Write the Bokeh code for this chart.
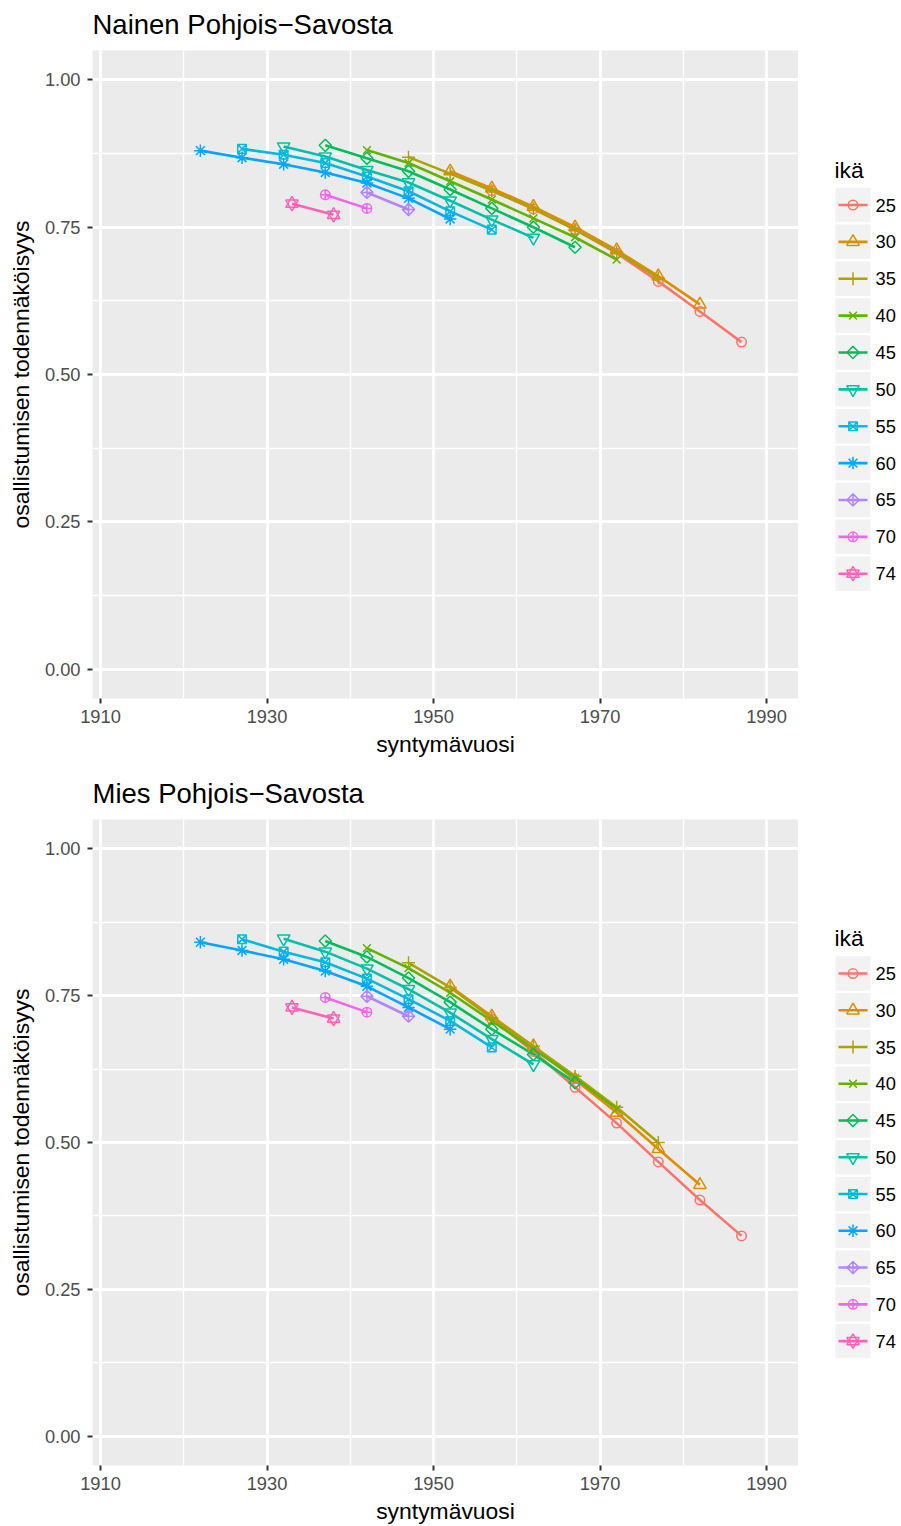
import math
from bokeh.plotting import figure
from bokeh.layouts import column, row
from bokeh.models import Range1d, FixedTicker
from bokeh.core.properties import value
from bokeh.embed import file_html
from bokeh.resources import INLINE

# Observation years; birth year = observation year - age
havaintovuodet = [1982, 1987, 1992, 1997, 2002, 2007, 2012]
iat = [25, 30, 35, 40, 45, 50, 55, 60, 65, 70, 74]

# Women, participation probability by birth cohort (oldest cohort first)
nainen_25 = [0.812, 0.781, 0.746, 0.706, 0.658, 0.607, 0.555]
nainen_30 = [0.845, 0.816, 0.785, 0.750, 0.711, 0.667, 0.619]
nainen_35 = [0.869, 0.841, 0.812, 0.782, 0.746, 0.708, 0.664]
nainen_40 = [0.881, 0.859, 0.828, 0.797, 0.765, 0.733, 0.695]
nainen_45 = [0.889, 0.867, 0.845, 0.814, 0.782, 0.750, 0.716]
nainen_50 = [0.887, 0.870, 0.847, 0.826, 0.795, 0.763, 0.732]
nainen_55 = [0.883, 0.873, 0.859, 0.836, 0.811, 0.777, 0.746]
nainen_60 = [0.880, 0.868, 0.857, 0.843, 0.825, 0.799, 0.764]
nainen_65 = [0.809, 0.780]
nainen_70 = [0.805, 0.782]
nainen_74 = [0.790, 0.771]

# Men
mies_25 = [0.710, 0.655, 0.594, 0.533, 0.467, 0.402, 0.341]
mies_30 = [0.766, 0.715, 0.664, 0.607, 0.551, 0.489, 0.428]
mies_35 = [0.806, 0.764, 0.712, 0.664, 0.613, 0.560, 0.500]
mies_40 = [0.831, 0.797, 0.755, 0.707, 0.659, 0.610, 0.557]
mies_45 = [0.843, 0.816, 0.780, 0.739, 0.693, 0.650, 0.602]
mies_50 = [0.847, 0.825, 0.796, 0.761, 0.721, 0.676, 0.633]
mies_55 = [0.846, 0.825, 0.807, 0.779, 0.744, 0.707, 0.662]
mies_60 = [0.841, 0.827, 0.812, 0.792, 0.766, 0.730, 0.693]
mies_65 = [0.749, 0.715]
mies_70 = [0.747, 0.722]
mies_74 = [0.730, 0.711]

nainen = [nainen_25, nainen_30, nainen_35, nainen_40, nainen_45, nainen_50,
          nainen_55, nainen_60, nainen_65, nainen_70, nainen_74]
mies = [mies_25, mies_30, mies_35, mies_40, mies_45, mies_50,
        mies_55, mies_60, mies_65, mies_70, mies_74]

x_tiikit = [1910, 1930, 1950, 1970, 1990]
x_apu = [1920, 1940, 1960, 1980]
y_tiikit = [0.0, 0.25, 0.5, 0.75, 1.0]
y_apu = [0.125, 0.375, 0.625, 0.875]
y_tekstit = ["0.00", "0.25", "0.50", "0.75", "1.00"]

varit = ["#F8766D", "#DB8E00", "#AEA200", "#64B200", "#00BD5C", "#00C1A7",
         "#00BADE", "#00A6FF", "#B385FF", "#EF67EB", "#FF63B6"]

# marker shapes per age group: (marker, size, angle)
merkit = [
    [("circle", 9.5, 0.0)],
    [("triangle", 12.5, 0.0)],
    [("cross", 13, 0.0)],
    [("x", 11, 0.0)],
    [("square", 8.6, math.pi / 4)],
    [("inverted_triangle", 12.5, 0.0)],
    [("square_x", 8.6, 0.0)],
    [("asterisk", 12.5, 0.0)],
    [("square_x", 8.6, math.pi / 4)],
    [("circle_cross", 9.5, 0.0)],
    [("triangle", 12.5, 0.0), ("inverted_triangle", 12.5, 0.0)],
]

FONT = "Liberation Sans"
LINE_W = 2.6
PT_W = 1.5
TOP = 50


def syntymavuodet(ika, arvot):
    vuodet = havaintovuodet[len(havaintovuodet) - len(arvot):]
    return [v - ika for v in vuodet]


def paneeli(otsikko, sarjat, korkeus, ala):
    p = figure(width=798, height=korkeus,
               x_range=Range1d(1909.04, 1993.84), y_range=Range1d(-0.05, 1.05),
               output_backend="svg", toolbar_location=None,
               min_border_left=92, min_border_right=0,
               min_border_top=TOP, min_border_bottom=ala,
               background_fill_color="#EBEBEB", border_fill_color="white",
               outline_line_color=None, title=otsikko)
    p.title.text_font = FONT
    p.title.text_font_size = "27.5px"
    p.title.text_font_style = "normal"
    p.title.text_color = "black"
    p.title.align = "left"
    p.title.vertical_align = "top"
    p.title.standoff = 17

    p.xaxis.ticker = FixedTicker(ticks=x_tiikit, minor_ticks=x_apu)
    p.yaxis.ticker = FixedTicker(ticks=y_tiikit, minor_ticks=y_apu)
    p.yaxis.major_label_overrides = {t: s for t, s in zip(y_tiikit, y_tekstit)}
    p.xaxis.axis_label = "syntymävuosi"
    p.yaxis.axis_label = "osallistumisen todennäköisyys"
    for ax in (p.xaxis[0], p.yaxis[0]):
        ax.axis_line_color = None
        ax.major_tick_line_color = "#333333"
        ax.major_tick_line_width = 2
        ax.major_tick_out = 5
        ax.major_tick_in = 0
        ax.minor_tick_line_color = None
        ax.major_label_text_font = FONT
        ax.major_label_text_font_size = "18.3px"
        ax.major_label_text_color = "#4D4D4D"
        ax.axis_label_text_font = FONT
        ax.axis_label_text_font_size = "22.9px"
        ax.axis_label_text_font_style = "normal"
        ax.axis_label_text_color = "black"
    p.xaxis.major_label_standoff = 6
    p.xaxis.axis_label_standoff = 5
    p.yaxis.major_label_standoff = 7
    p.yaxis.axis_label_standoff = 8

    for g in (p.xgrid[0], p.ygrid[0]):
        g.grid_line_color = "white"
        g.grid_line_width = 2.8
        g.minor_grid_line_color = "white"
        g.minor_grid_line_width = 1.4

    for ika, arvot, vari in zip(iat, sarjat, varit):
        p.line(syntymavuodet(ika, arvot), arvot, line_color=vari, line_width=LINE_W)
    for ika, arvot, vari, mk in zip(iat, sarjat, varit, merkit):
        xs = syntymavuodet(ika, arvot)
        for marker, koko, kulma in mk:
            p.scatter(xs, arvot, marker=marker, size=koko, angle=kulma,
                      fill_color=None, line_color=vari, line_width=PT_W)
    return p


def selite(korkeus, ala):
    s = figure(width=103, height=korkeus,
               x_range=Range1d(0, 103), y_range=Range1d(korkeus - ala, TOP),
               x_axis_type=None, y_axis_type=None,
               output_backend="svg", toolbar_location=None,
               min_border_left=0, min_border_right=0,
               min_border_top=TOP, min_border_bottom=ala,
               outline_line_color=None, background_fill_color="white",
               border_fill_color="white")
    s.grid.visible = False
    ky = [204.5 + 36.87 * i for i in range(len(iat))]
    s.rect(x=54.5, y=ky, width=35, height=34.5, fill_color="#F2F2F2", line_color=None)
    s.segment(x0=40, x1=69, y0=ky, y1=ky, line_color=varit, line_width=LINE_W)
    for y, vari, mk in zip(ky, varit, merkit):
        for marker, koko, kulma in mk:
            s.scatter([54.5], [y], marker=marker, size=koko, angle=kulma,
                      fill_color=None, line_color=vari, line_width=PT_W)
    s.text(x=77, y=ky, text=[str(a) for a in iat], text_baseline="middle",
           text_font=value(FONT), text_font_size="18.3px", text_color="black")
    s.text(x=[36], y=[169.2], text=["ikä"], text_baseline="middle",
           text_font=value(FONT), text_font_size="22.9px", text_color="black")
    return s


p1 = paneeli("Nainen Pohjois\u2212Savosta", nainen, 769, 71)
p2 = paneeli("Mies Pohjois\u2212Savosta", mies, 757, 59)
layout = column(row(p1, selite(769, 71)), row(p2, selite(757, 59)))

open("out.html", "w").write(file_html(layout, INLINE))
